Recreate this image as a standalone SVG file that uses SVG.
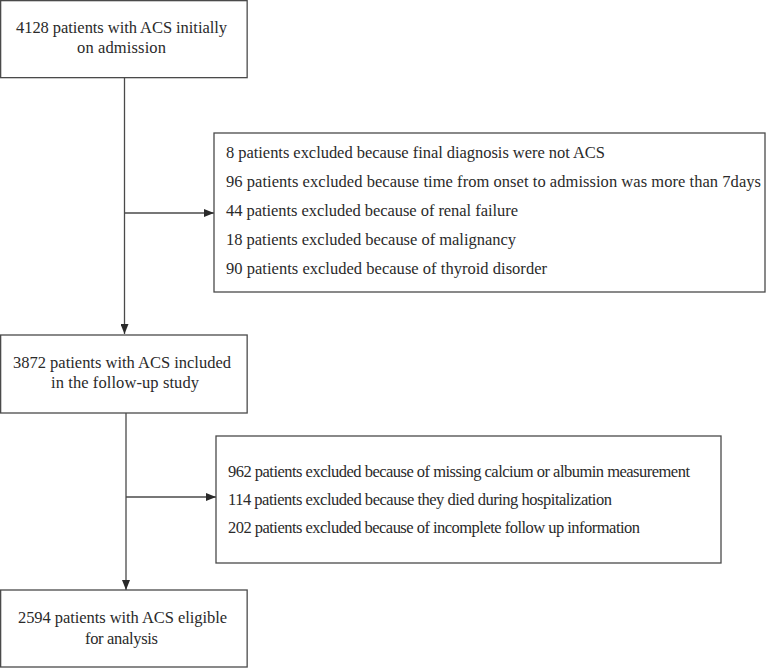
<svg xmlns="http://www.w3.org/2000/svg" width="767" height="668" viewBox="0 0 767 668">
<defs>
<marker id="ah" viewBox="0 0 10 8" refX="10" refY="4" markerWidth="10" markerHeight="8" markerUnits="userSpaceOnUse" orient="auto">
<path d="M0,0 L10,4 L0,8 Z" fill="#2a2a2a"/>
</marker>
</defs>
<style>
rect{fill:#fff;stroke:#4a4a4a;stroke-width:1.3}
text{font-family:'Liberation Serif','DejaVu Serif',serif;font-size:16.5px;fill:#2a2a2a}
.c{text-anchor:middle}
.ln{stroke:#4a4a4a;stroke-width:1.3;fill:none}
</style>
<rect x="0" y="0" width="767" height="668" style="fill:#fff;stroke:none"/>
<g id="connectors">
<line class="ln" x1="124.5" y1="78" x2="124.5" y2="334" marker-end="url(#ah)"/>
<line class="ln" x1="124.5" y1="213" x2="214" y2="213" marker-end="url(#ah)"/>
<line class="ln" x1="126" y1="413" x2="126" y2="590" marker-end="url(#ah)"/>
<line class="ln" x1="126" y1="497" x2="216" y2="497" marker-end="url(#ah)"/>
</g>
<g id="n1">
<rect x="0.65" y="0.65" width="246.5" height="77"/>
<text class="c" x="121.5" y="33" textLength="211" lengthAdjust="spacing">4128 patients with ACS initially</text>
<text class="c" x="121.5" y="53" textLength="89" lengthAdjust="spacing">on admission</text>
</g>
<g id="n2">
<rect x="214" y="133" width="551" height="159"/>
<text x="226" y="158" textLength="379" lengthAdjust="spacing">8 patients excluded because final diagnosis were not ACS</text>
<text x="226" y="187" textLength="535" lengthAdjust="spacing">96 patients excluded because time from onset to admission was more than 7days</text>
<text x="226" y="216" textLength="292" lengthAdjust="spacing">44 patients excluded because of renal failure</text>
<text x="226" y="245" textLength="290" lengthAdjust="spacing">18 patients excluded because of malignancy</text>
<text x="226" y="274" textLength="321" lengthAdjust="spacing">90 patients excluded because of thyroid disorder</text>
</g>
<g id="n3">
<rect x="0.65" y="335" width="246.5" height="78"/>
<text class="c" x="122" y="368" textLength="218" lengthAdjust="spacing">3872 patients with ACS included</text>
<text class="c" x="125" y="388" textLength="148" lengthAdjust="spacing">in the follow-up study</text>
</g>
<g id="n4">
<rect x="216" y="436" width="505" height="127"/>
<text x="228" y="477" textLength="462" lengthAdjust="spacing">962 patients excluded because of missing calcium or albumin measurement</text>
<text x="228" y="505" textLength="384" lengthAdjust="spacing">114 patients excluded because they died during hospitalization</text>
<text x="228" y="533" textLength="412" lengthAdjust="spacing">202 patients excluded because of incomplete follow up information</text>
</g>
<g id="n5">
<rect x="0.65" y="590" width="246.5" height="77"/>
<text class="c" x="122.5" y="623" textLength="209" lengthAdjust="spacing">2594 patients with ACS eligible</text>
<text class="c" x="121.5" y="644" textLength="73" lengthAdjust="spacing">for analysis</text>
</g>
</svg>
